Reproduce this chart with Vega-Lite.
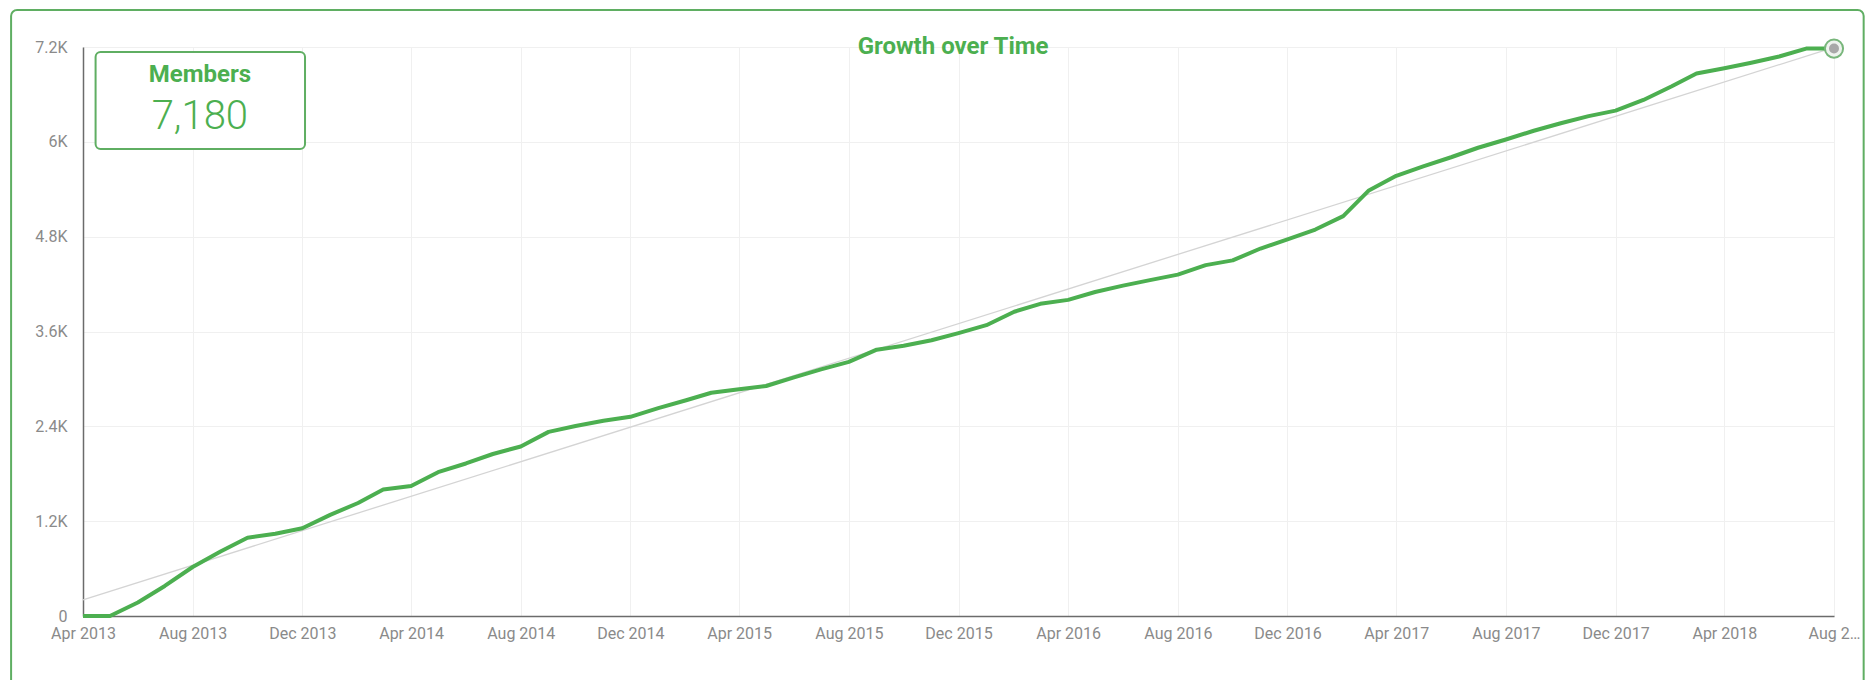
{
  "$schema": "https://vega.github.io/schema/vega-lite/v6.json",
  "autosize": {"type": "none"},
  "width": 1751,
  "height": 569,
  "padding": {"left": 83, "top": 47, "right": 33, "bottom": 64},
  "background": "white",
  "config": {
    "font": "Roboto",
    "view": {"stroke": null},
    "axis": {
      "labelFont": "Roboto",
      "labelFontSize": 16,
      "labelColor": "#8a8a8a",
      "gridColor": "#f0f0f0",
      "gridWidth": 1,
      "domainColor": "#6b6b6b",
      "domainWidth": 1.5,
      "ticks": false,
      "title": null
    }
  },
  "datasets": {
    "growth": [
      {"month": "2013-04-01", "members": 0},
      {"month": "2013-05-01", "members": 0},
      {"month": "2013-06-01", "members": 170},
      {"month": "2013-07-01", "members": 380},
      {"month": "2013-08-01", "members": 620},
      {"month": "2013-09-01", "members": 815},
      {"month": "2013-10-01", "members": 990},
      {"month": "2013-11-01", "members": 1040},
      {"month": "2013-12-01", "members": 1110},
      {"month": "2014-01-01", "members": 1280},
      {"month": "2014-02-01", "members": 1430},
      {"month": "2014-03-01", "members": 1600},
      {"month": "2014-04-01", "members": 1645},
      {"month": "2014-05-01", "members": 1820},
      {"month": "2014-06-01", "members": 1930},
      {"month": "2014-07-01", "members": 2050},
      {"month": "2014-08-01", "members": 2145},
      {"month": "2014-09-01", "members": 2330},
      {"month": "2014-10-01", "members": 2405},
      {"month": "2014-11-01", "members": 2470},
      {"month": "2014-12-01", "members": 2520},
      {"month": "2015-01-01", "members": 2630},
      {"month": "2015-02-01", "members": 2730},
      {"month": "2015-03-01", "members": 2825},
      {"month": "2015-04-01", "members": 2870},
      {"month": "2015-05-01", "members": 2910},
      {"month": "2015-06-01", "members": 3020},
      {"month": "2015-07-01", "members": 3120},
      {"month": "2015-08-01", "members": 3215},
      {"month": "2015-09-01", "members": 3370},
      {"month": "2015-10-01", "members": 3420},
      {"month": "2015-11-01", "members": 3490},
      {"month": "2015-12-01", "members": 3580},
      {"month": "2016-01-01", "members": 3680},
      {"month": "2016-02-01", "members": 3850},
      {"month": "2016-03-01", "members": 3950},
      {"month": "2016-04-01", "members": 4000},
      {"month": "2016-05-01", "members": 4100},
      {"month": "2016-06-01", "members": 4180},
      {"month": "2016-07-01", "members": 4250},
      {"month": "2016-08-01", "members": 4320},
      {"month": "2016-09-01", "members": 4440},
      {"month": "2016-10-01", "members": 4500},
      {"month": "2016-11-01", "members": 4650},
      {"month": "2016-12-01", "members": 4765},
      {"month": "2017-01-01", "members": 4890},
      {"month": "2017-02-01", "members": 5060},
      {"month": "2017-03-01", "members": 5380},
      {"month": "2017-04-01", "members": 5570},
      {"month": "2017-05-01", "members": 5690},
      {"month": "2017-06-01", "members": 5805},
      {"month": "2017-07-01", "members": 5925},
      {"month": "2017-08-01", "members": 6030},
      {"month": "2017-09-01", "members": 6140},
      {"month": "2017-10-01", "members": 6235},
      {"month": "2017-11-01", "members": 6325},
      {"month": "2017-12-01", "members": 6395},
      {"month": "2018-01-01", "members": 6530},
      {"month": "2018-02-01", "members": 6700},
      {"month": "2018-03-01", "members": 6865},
      {"month": "2018-04-01", "members": 6930},
      {"month": "2018-05-01", "members": 7000},
      {"month": "2018-06-01", "members": 7080},
      {"month": "2018-07-01", "members": 7180},
      {"month": "2018-08-01", "members": 7180}
    ],
    "trend": [
      {"month": "2013-04-01", "members": 205},
      {"month": "2018-08-01", "members": 7195}
    ],
    "latest": [
      {"month": "2018-08-01", "members": 7180, "label": "Members", "title": "Growth over Time"}
    ]
  },
  "encoding": {
    "x": {
      "field": "month",
      "type": "temporal",
      "scale": {
        "type": "utc",
        "domain": [
          {"year": 2013, "month": 4, "date": 1, "utc": true},
          {"year": 2018, "month": 8, "date": 1, "utc": true}
        ],
        "nice": false
      },
      "axis": {
        "values": [
          {"year": 2013, "month": 4, "date": 1, "utc": true},
          {"year": 2013, "month": 8, "date": 1, "utc": true},
          {"year": 2013, "month": 12, "date": 1, "utc": true},
          {"year": 2014, "month": 4, "date": 1, "utc": true},
          {"year": 2014, "month": 8, "date": 1, "utc": true},
          {"year": 2014, "month": 12, "date": 1, "utc": true},
          {"year": 2015, "month": 4, "date": 1, "utc": true},
          {"year": 2015, "month": 8, "date": 1, "utc": true},
          {"year": 2015, "month": 12, "date": 1, "utc": true},
          {"year": 2016, "month": 4, "date": 1, "utc": true},
          {"year": 2016, "month": 8, "date": 1, "utc": true},
          {"year": 2016, "month": 12, "date": 1, "utc": true},
          {"year": 2017, "month": 4, "date": 1, "utc": true},
          {"year": 2017, "month": 8, "date": 1, "utc": true},
          {"year": 2017, "month": 12, "date": 1, "utc": true},
          {"year": 2018, "month": 4, "date": 1, "utc": true},
          {"year": 2018, "month": 8, "date": 1, "utc": true}
        ],
        "labelExpr": "utcFormat(datum.value, '%b %Y') == 'Aug 2018' ? 'Aug 2…' : utcFormat(datum.value, '%b %Y')",
        "labelPadding": 9,
        "labelOverlap": false,
        "labelBound": false,
        "labelFlush": false
      }
    },
    "y": {
      "field": "members",
      "type": "quantitative",
      "scale": {"domain": [0, 7200], "nice": false, "zero": true},
      "axis": {
        "values": [0, 1200, 2400, 3600, 4800, 6000, 7200],
        "labelExpr": "datum.value == 0 ? '0' : format(datum.value / 1000, '.1~f') + 'K'",
        "labelPadding": 16
      }
    }
  },
  "layer": [
    {
      "data": {"name": "latest"},
      "mark": {"type": "rect", "fill": "white", "fillOpacity": 0, "stroke": "#5fae62", "strokeWidth": 2, "strokeOpacity": 1, "cornerRadius": 6, "clip": false},
      "encoding": {
        "x": {"datum": {"year": 2013, "month": 1, "date": 11, "utc": true}, "type": "temporal"},
        "x2": {"datum": {"year": 2018, "month": 9, "date": 3, "utc": true}},
        "y": {"datum": 7668, "type": "quantitative"},
        "y2": {"datum": -1200}
      }
    },
    {
      "data": {"name": "trend"},
      "mark": {"type": "line", "color": "#d4d4d4", "strokeWidth": 1.3}
    },
    {
      "data": {"name": "growth"},
      "mark": {"type": "line", "color": "#4caf50", "strokeWidth": 4, "interpolate": "linear", "strokeJoin": "round", "clip": false}
    },
    {
      "data": {"name": "latest"},
      "mark": {"type": "point", "shape": "circle", "filled": true, "fill": "#eef3ee", "stroke": "#78b67b", "strokeWidth": 2, "size": 330, "opacity": 1, "clip": false}
    },
    {
      "data": {"name": "latest"},
      "mark": {"type": "point", "shape": "circle", "filled": true, "fill": "#a8a8a8", "size": 100, "opacity": 1, "clip": false}
    },
    {
      "data": {"name": "latest"},
      "mark": {"type": "rect", "fill": "white", "stroke": "#5fae62", "strokeWidth": 2, "cornerRadius": 5, "clip": false},
      "encoding": {
        "x": {"datum": {"year": 2013, "month": 4, "date": 15, "utc": true}, "type": "temporal"},
        "x2": {"datum": {"year": 2013, "month": 12, "date": 4, "utc": true}},
        "y": {"datum": 7137, "type": "quantitative"},
        "y2": {"datum": 5909}
      }
    },
    {
      "data": {"name": "latest"},
      "mark": {"type": "text", "font": "Roboto", "fontSize": 24, "fontWeight": "bold", "color": "#4caf50", "align": "center", "baseline": "alphabetic", "clip": false},
      "encoding": {
        "x": {"datum": {"year": 2013, "month": 8, "date": 9, "utc": true}, "type": "temporal"},
        "y": {"datum": 6753, "type": "quantitative"},
        "text": {"field": "label"}
      }
    },
    {
      "data": {"name": "latest"},
      "mark": {"type": "text", "font": "Roboto", "fontSize": 40, "fontWeight": 300, "color": "#4caf50", "align": "center", "baseline": "alphabetic", "clip": false},
      "encoding": {
        "x": {"datum": {"year": 2013, "month": 8, "date": 9, "utc": true}, "type": "temporal"},
        "y": {"datum": 6158, "type": "quantitative"},
        "text": {"field": "members", "format": ","}
      }
    },
    {
      "data": {"name": "latest"},
      "mark": {"type": "text", "font": "Roboto", "fontSize": 24, "fontWeight": "bold", "color": "#4caf50", "align": "center", "baseline": "alphabetic", "clip": false},
      "encoding": {
        "x": {"datum": {"year": 2015, "month": 11, "date": 25, "utc": true}, "type": "temporal"},
        "y": {"datum": 7111, "type": "quantitative"},
        "text": {"field": "title"}
      }
    }
  ]
}
